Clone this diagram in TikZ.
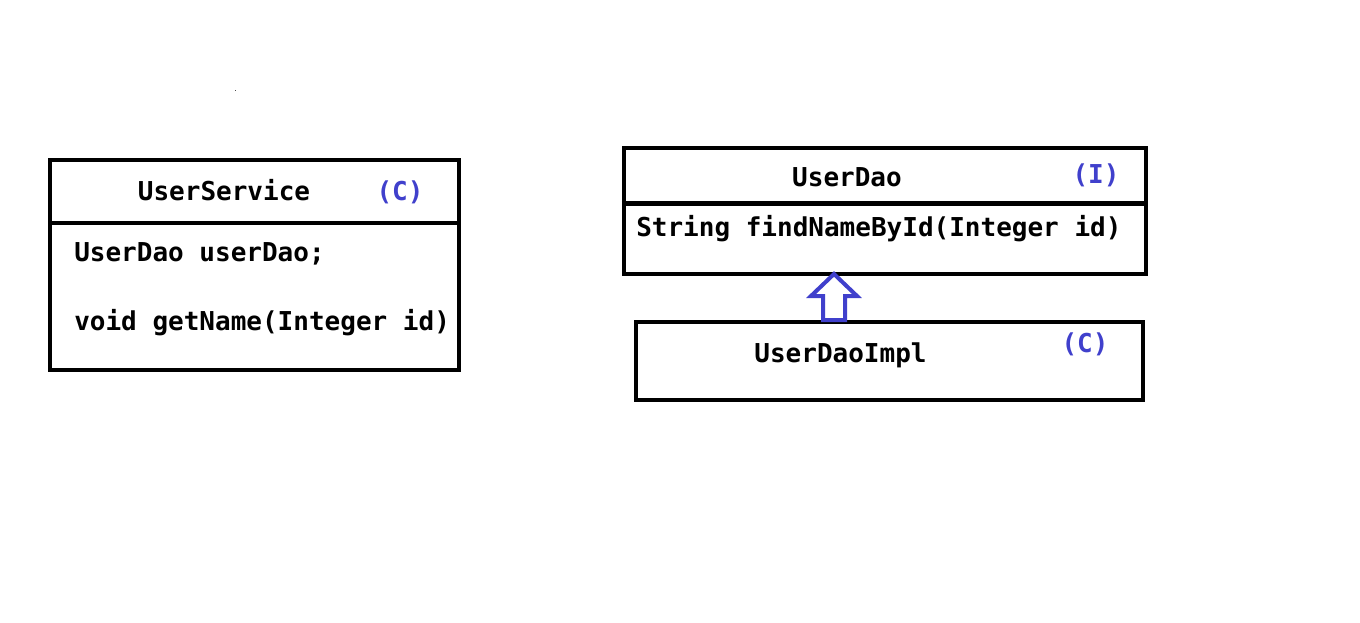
\documentclass[tikz,border=0pt]{standalone}
\usepackage{fontspec}
\setmonofont{DejaVu Sans Mono}
\usetikzlibrary{calc}
\definecolor{tagblue}{RGB}{64,64,204}
\begin{document}
\begin{tikzpicture}[x=0.75pt,y=-0.75pt,
  classbox/.style={draw=black,line width=3.2pt,rectangle,inner sep=0pt},
  code/.style={font=\ttfamily\bfseries\fontsize{19.5pt}{23pt}\selectfont,inner sep=0pt},
  tag/.style={code,text=tagblue},
  divider/.style={line width=3.2pt},
  realize/.style={draw=tagblue,line width=3pt,fill=white,line join=miter}]
\useasboundingbox (0,0) rectangle (1360,622);
\fill[white] (0,0) rectangle (1360,622);
% stray dot
\fill[black!70] (234.5,89.5) rectangle (235.8,90.8);

% UserService class
\node[classbox,minimum width=409*0.75pt,minimum height=210*0.75pt] (svc) at (254.75,265.25) {};
\draw[divider] (svc.west |- 0,223) -- (svc.east |- 0,223);
\node[code,anchor=base] (svcname) at (224,200.5) {UserService};
\node[tag,anchor=base] (svctag) at (400,200.5) {(C)};
\node[code,anchor=base west] (svcfield) at (74,261.5) {UserDao userDao;};
\node[code,anchor=base west] (svcmethod) at (74,330) {void getName(Integer id)};

% UserDao interface
\node[classbox,minimum width=522*0.75pt,minimum height=126*0.75pt] (dao) at (885,211) {};
\draw[divider] (dao.west |- 0,203.5) -- (dao.east |- 0,203.5);
\node[code,anchor=base] (daoname) at (847,186) {UserDao};
\node[tag,anchor=base] (daotag) at (1096,183) {(I)};
\node[code,anchor=base west] (daomethod) at (636,236) {String findNameById(Integer id)};

% UserDaoImpl class
\node[classbox,minimum width=507*0.75pt,minimum height=78*0.75pt] (impl) at (889.5,361) {};
\node[code,anchor=base] (implname) at (840.5,362) {UserDaoImpl};
\node[tag,anchor=base] (impltag) at (1085,352) {(C)};

% realization arrow from UserDaoImpl up to UserDao
\coordinate (tip) at (834,274);
\coordinate (foot) at (834,320);
\draw[realize] (tip) -- ++(23,22) -- ++(-12,0) -- (foot -| 845,0) -- (foot -| 823,0) -- (823,296) -- ++(-12,0) -- cycle;
\end{tikzpicture}
\end{document}
